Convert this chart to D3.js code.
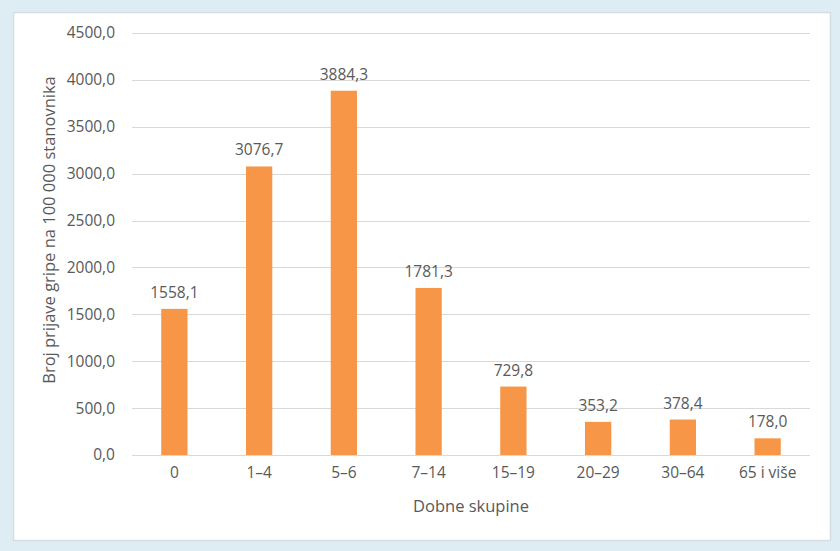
<!DOCTYPE html>
<html><head><meta charset="utf-8">
<script src="https://cdn.jsdelivr.net/npm/d3@7"></script>
<style>
html,body{margin:0;padding:0;background:#deedf4;}
svg{display:block;}
text{font-family:"Open Sans",sans-serif;fill:#595959;}
</style></head><body>
<svg id="c" width="840" height="551"></svg>
<script>
const categories = ["0","1–4","5–6","7–14","15–19","20–29","30–64","65 i više"];
const values = [1558.1,3076.7,3884.3,1781.3,729.8,353.2,378.4,178.0];
const yTicks = [0,500,1000,1500,2000,2500,3000,3500,4000,4500];
const yTitle = "Broj prijave gripe na 100 000 stanovnika";
const xTitle = "Dobne skupine";

const svg = d3.select("#c");
svg.append("rect").attr("x",13.5).attr("y",12.5).attr("width",817).attr("height",528)
  .attr("fill","#fff").attr("stroke","#d4dde2").attr("stroke-width",1.5);

const x = d3.scaleBand().domain(categories).range([132,810]).paddingInner(0.69).paddingOuter(0.345);
const y = d3.scaleLinear().domain([0,4500]).range([455,33]);
const fmt = v => d3.format(".1f")(v).replace(".",",");

const grid = svg.append("g");
grid.selectAll("line").data(yTicks).join("line")
  .attr("x1",132).attr("x2",810).attr("y1",d=>Math.round(y(d))+0.5).attr("y2",d=>Math.round(y(d))+0.5)
  .attr("stroke","#d9d9d9").attr("stroke-width",1);

const yAxis = d3.axisLeft(y).tickValues(yTicks).tickFormat(fmt).tickSize(0).tickPadding(9);
const ya = svg.append("g").attr("transform","translate(124,0)").call(yAxis);
ya.select(".domain").remove();
ya.selectAll("text").attr("font-size","15.5px").style("font-family","Open Sans").attr("fill","#595959");

svg.append("g").selectAll("rect").data(values).join("rect")
  .attr("x",(d,i)=>x(categories[i])).attr("width",x.bandwidth())
  .attr("y",d=>y(d)).attr("height",d=>y(0)-y(d)).attr("fill","#f79646");

svg.append("g").selectAll("text").data(values).join("text")
  .attr("x",(d,i)=>x(categories[i])+x.bandwidth()/2).attr("y",d=>y(d)-11)
  .attr("text-anchor","middle").attr("font-size","15.5px").attr("fill","#404040").text(fmt);

const xAxis = d3.axisBottom(x).tickSize(0).tickPadding(12);
const xa = svg.append("g").attr("transform","translate(0,455)").call(xAxis);
xa.select(".domain").remove();
xa.selectAll("text").attr("font-size","15.5px").style("font-family","Open Sans").attr("fill","#595959");

svg.append("text").attr("x",471).attr("y",512).attr("text-anchor","middle").attr("font-size","16.5px").text(xTitle);
svg.append("text").attr("transform","translate(55,230) rotate(-90)").attr("text-anchor","middle").attr("font-size","16.5px").text(yTitle);
</script></body></html>
